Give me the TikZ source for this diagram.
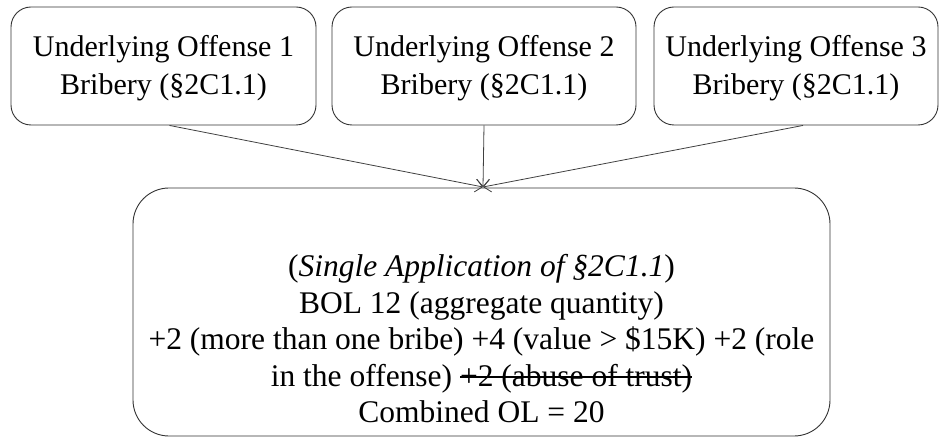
\documentclass[tikz,border=0pt]{standalone}
\usepackage{fontspec}
\setmainfont{Liberation Serif}
\usetikzlibrary{arrows.meta}
\newcommand\strk[1]{\setbox0=\hbox{#1}\copy0\kern-\wd0\rule[0.28em]{\wd0}{0.06em}}
\begin{document}
\begin{tikzpicture}[x=1pt,y=-1pt,
  smallbox/.style={draw=black!80, line width=0.9pt, rounded corners=20pt, minimum height=118pt, align=center, inner sep=0pt},
  smalltext/.style={align=center, inner sep=0pt, font=\fontsize{30}{38}\selectfont},
  bigbox/.style={draw=black!80, line width=0.9pt, rounded corners=36pt, minimum width=697pt, minimum height=248pt, inner sep=0pt},
  bigtext/.style={align=center, inner sep=0pt, font=\fontsize{31.5}{36.5}\selectfont},
  conn/.style={draw=black!75, line width=0.8pt, -{Straight Barb[length=7pt,width=13pt]}}]
\useasboundingbox (0,0) rectangle (945,438);
\node[smallbox, minimum width=305pt] (b1) at (163.5,66) {};
\node[smallbox, minimum width=304pt] (b2) at (484,66) {};
\node[smallbox, minimum width=284pt] (b3) at (796,66) {};
\node[smalltext] (t1) at ([yshift=-2pt]b1.center) {Underlying Offense 1\\Bribery (\S2C1.1)};
\node[smalltext] (t2) at ([yshift=-2pt]b2.center) {Underlying Offense 2\\Bribery (\S2C1.1)};
\node[smalltext] (t3) at ([yshift=-2pt]b3.center) {Underlying Offense 3\\Bribery (\S2C1.1)};
\node[bigbox] (big) at (481.5,312) {};
\node[bigtext] (bt) at ([yshift=-27pt]big.center) {(\textit{Single Application of \S2C1.1})\\BOL 12 (aggregate quantity)\\+2 (more than one bribe) +4 (value > \$15K) +2 (role\\in the offense) \strk{+2 (abuse of trust)}\\Combined OL = 20};
\coordinate (tip) at (483,187);
\draw[conn] ([xshift=6pt]b1.south) -- (tip);
\draw[conn] (b2.south) -- (tip);
\draw[conn] ([xshift=7pt]b3.south) -- (tip);
\end{tikzpicture}
\end{document}
